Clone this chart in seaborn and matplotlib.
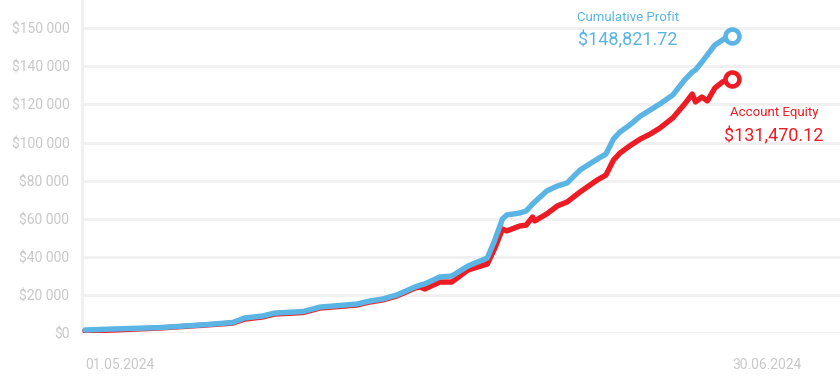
import pandas as pd
import numpy as np
import matplotlib
matplotlib.use("Agg")
import matplotlib.pyplot as plt
import seaborn as sns

# days since 01.05.2024
days = [0, 2.6, 7.0, 11.3, 13.7, 14.8, 16.4, 17.6, 20.2, 21.8, 25.2, 26.4, 27.6, 28.9,
        30.6, 31.1, 31.5, 32.9, 34.0, 35.5, 37.3, 38.0, 38.7, 39.1, 40.3, 40.9, 41.5,
        41.7, 42.8, 43.8, 44.7, 45.9, 47.5, 48.3, 49.0, 49.6, 50.5, 51.5, 52.4, 53.3,
        54.5, 55.6, 56.3, 56.6, 57.2, 57.7, 58.4, 59.1, 59.5, 60.0]

cumulative_profit = [1580, 2100, 2860, 4440, 5530, 7900, 8880, 10460, 11250, 13620,
                     15200, 16780, 17860, 19940, 24180, 25170, 25760, 29410, 29910, 35140,
                     39380, 48860, 59810, 61980, 62970, 64060, 67710, 68790, 74520, 77180,
                     78760, 85570, 91300, 93960, 101860, 105510, 109160, 113900, 117060, 120220,
                     124950, 132850, 137000, 138080, 142230, 145980, 151210, 153770, 155350, 155950]

account_equity = [1090, 1580, 2660, 4240, 5230, 7300, 8390, 9970, 10760, 13130,
                  14710, 16290, 17370, 19440, 23590, 24180, 23100, 26750, 26750, 33060,
                  36220, 44610, 54580, 53590, 56160, 56650, 60900, 58830, 62480, 66720,
                  68790, 74030, 80340, 82910, 90800, 94460, 98210, 101860, 104420, 107580,
                  112910, 120220, 125450, 121300, 123870, 121800, 128610, 131760, 132850, 133340]

profit_final = 148821.72
equity_final = 131470.12

y_ticks = [0, 20000, 40000, 60000, 80000, 100000, 120000, 140000, 160000]
y_labels = ["$0", "$20 000", "$40 000", "$60 000", "$80 000", "$100 000",
            "$120 000", "$140 000", "$150 000"]
x_labels = ["01.05.2024", "30.06.2024"]

blue = "#5ab4e4"
red = "#ed1c24"
grey_text = "#c8c8c8"
grid_col = "#f0f0f0"

start = pd.Timestamp("2024-05-01")
df = pd.DataFrame({
    "date": start + pd.to_timedelta(days, unit="D"),
    "Cumulative Profit": cumulative_profit,
    "Account Equity": account_equity,
})

sns.set_style("white")
plt.rcParams["font.family"] = ["Roboto", "DejaVu Sans"]

fig = plt.figure(figsize=(8.4, 3.83), dpi=100)
ax = fig.add_axes([0.0976, 0.1305, 0.9024, 0.8695])

sns.lineplot(data=df, x="date", y="Account Equity", color=red, lw=3.9, ax=ax,
             solid_joinstyle="round", zorder=3)
sns.lineplot(data=df, x="date", y="Cumulative Profit", color=blue, lw=3.9, ax=ax,
             solid_joinstyle="round", zorder=4)

last = df.iloc[-1]
ax.plot(last["date"], last["Account Equity"], "o", ms=10, mfc="white", mec=red, mew=3.3, zorder=5)
ax.plot(last["date"], last["Cumulative Profit"], "o", ms=10, mfc="white", mec=blue, mew=3.3, zorder=6)

# end labels
ax.annotate("Cumulative Profit", (last["date"], last["Cumulative Profit"]),
            xytext=(-75, 13), textcoords="offset points", ha="center", va="center",
            color=blue, fontsize=9.5)
ax.annotate(f"${profit_final:,.2f}", (last["date"], last["Cumulative Profit"]),
            xytext=(-75, -3.5), textcoords="offset points", ha="center", va="center",
            color=blue, fontsize=13)
ax.annotate("Account Equity", (last["date"], last["Account Equity"]),
            xytext=(30, -24), textcoords="offset points", ha="center", va="center",
            color=red, fontsize=9.5)
ax.annotate(f"${equity_final:,.2f}", (last["date"], last["Account Equity"]),
            xytext=(30, -41.5), textcoords="offset points", ha="center", va="center",
            color=red, fontsize=13)

ax.set_ylim(0, 174800)
ax.set_xlim(start - pd.Timedelta(days=0.28), start + pd.Timedelta(days=70))
ax.set_yticks(y_ticks)
ax.set_yticklabels(y_labels)
ax.set_xticks([start, start + pd.Timedelta(days=60)])
ax.set_xticklabels(x_labels, ha="left")
ax.tick_params(axis="both", length=0, colors=grey_text, labelsize=10)
ax.tick_params(axis="x", pad=18)
ax.tick_params(axis="y", pad=9)
ax.grid(axis="y", color=grid_col, lw=2)
ax.set_axisbelow(True)
ax.set_xlabel("")
ax.set_ylabel("")
for s in ["top", "right", "bottom"]:
    ax.spines[s].set_visible(False)
ax.spines["left"].set_color(grid_col)
ax.spines["left"].set_linewidth(2)

fig.savefig("out.png", dpi=100)
